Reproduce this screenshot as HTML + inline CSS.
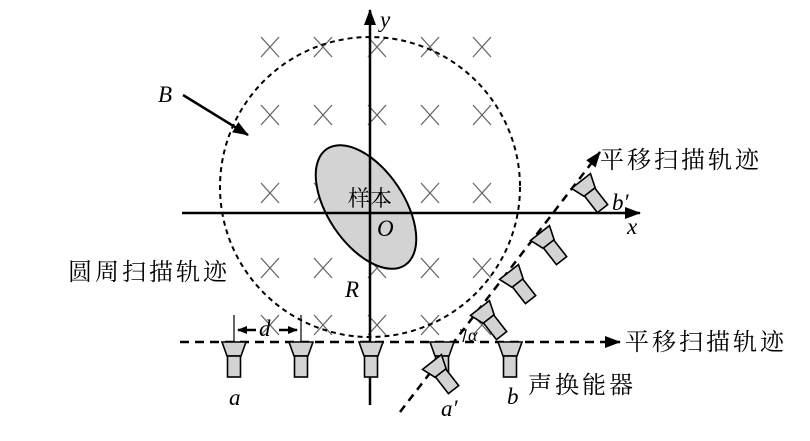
<!DOCTYPE html>
<html><head><meta charset="utf-8"><style>
html,body{margin:0;padding:0;background:#fff;}
</style></head><body>
<svg width="810" height="441" viewBox="0 0 810 441" xmlns="http://www.w3.org/2000/svg" style="display:block">
<defs>
<marker id="ar" markerWidth="10" markerHeight="8" refX="9" refY="4" orient="auto" markerUnits="userSpaceOnUse"><path d="M0,0 L10,4 L0,8 z" fill="#000"/></marker>
<marker id="arb" markerWidth="16" markerHeight="12" refX="15" refY="6" orient="auto" markerUnits="userSpaceOnUse"><path d="M0,0 L16,6 L0,12 z" fill="#000"/></marker>
<g id="xm" stroke="#666" stroke-width="1.3"><line x1="-9" y1="-10" x2="9" y2="10"/><line x1="9" y1="-10" x2="-9" y2="10"/></g>
<g id="tr" stroke="#000" stroke-width="1.6" fill="#d3d3d3"><path d="M-12,0 L12,0 L7,14 L-7,14 z"/><rect x="-6.5" y="14" width="13" height="21"/></g>
</defs>
<g>
<use href="#xm" x="270" y="47"/><use href="#xm" x="323" y="47"/><use href="#xm" x="377" y="47"/><use href="#xm" x="430" y="47"/><use href="#xm" x="482" y="47"/>
<use href="#xm" x="270" y="115"/><use href="#xm" x="323" y="115"/><use href="#xm" x="377" y="115"/><use href="#xm" x="430" y="115"/><use href="#xm" x="482" y="115"/>
<use href="#xm" x="270" y="193"/><use href="#xm" x="323" y="193"/><use href="#xm" x="377" y="193"/><use href="#xm" x="430" y="193"/><use href="#xm" x="482" y="193"/>
<use href="#xm" x="270" y="268"/><use href="#xm" x="323" y="268"/><use href="#xm" x="377" y="268"/><use href="#xm" x="430" y="268"/><use href="#xm" x="482" y="268"/>
<use href="#xm" x="270" y="325"/><use href="#xm" x="323" y="325"/><use href="#xm" x="377" y="325"/><use href="#xm" x="430" y="325"/><use href="#xm" x="482" y="325"/>
</g>
<ellipse cx="366" cy="207" rx="70" ry="38" transform="rotate(56 366 207)" fill="#d3d3d3" stroke="#000" stroke-width="2"/>
<circle cx="370" cy="187" r="150" fill="none" stroke="#000" stroke-width="2" stroke-dasharray="5,4"/>
<line x1="370" y1="405" x2="370" y2="10" stroke="#000" stroke-width="2.5" marker-end="url(#arb)"/>
<line x1="182" y1="213" x2="640" y2="213" stroke="#000" stroke-width="2.5" marker-end="url(#arb)"/>
<line x1="183" y1="95" x2="248" y2="135" stroke="#000" stroke-width="2.5" marker-end="url(#arb)"/>
<line x1="180" y1="342" x2="620" y2="342" stroke="#000" stroke-width="2.5" stroke-dasharray="9,6" marker-end="url(#arb)"/>
<line x1="400" y1="412" x2="600" y2="152" stroke="#000" stroke-width="2.5" stroke-dasharray="8,6" marker-end="url(#arb)"/>
<line x1="234" y1="315" x2="234" y2="342" stroke="#000" stroke-width="1.2"/>
<line x1="301" y1="315" x2="301" y2="342" stroke="#000" stroke-width="1.2"/>
<line x1="256" y1="330" x2="238" y2="330" stroke="#000" stroke-width="2.5" marker-end="url(#ar)"/>
<line x1="279" y1="330" x2="297" y2="330" stroke="#000" stroke-width="2.5" marker-end="url(#ar)"/>
<use href="#tr" x="234" y="342"/><use href="#tr" x="301" y="342"/><use href="#tr" x="371" y="342"/><use href="#tr" x="442" y="342"/><use href="#tr" x="510" y="342"/>
<use href="#tr" transform="translate(432,362) rotate(-38)"/>
<use href="#tr" transform="translate(480,308) rotate(-38)"/>
<use href="#tr" transform="translate(509,272) rotate(-38)"/>
<use href="#tr" transform="translate(540,233) rotate(-38)"/>
<use href="#tr" transform="translate(581,181) rotate(-38)"/>
<path d="M460,330 L466,330 L463,342" fill="none" stroke="#000" stroke-width="1.3"/>
<g font-family="Liberation Serif, serif" font-style="italic" font-size="23" fill="#000">
<text x="158" y="102">B</text>
<text x="380" y="27">y</text>
<text x="627" y="234">x</text>
<text x="377" y="236">O</text>
<text x="345" y="297">R</text>
<text x="259" y="336">d</text>
<text x="229" y="405">a</text>
<text x="441" y="416">a′</text>
<text x="507" y="404">b</text>
<text x="612" y="210">b′</text>
<text x="468" y="341" font-size="18">α</text>
</g>
<g font-family="Liberation Serif, Noto Serif CJK SC, serif" font-size="24" fill="#000">
<text x="348" y="206" font-size="22">样本</text>
<text x="68" y="280" letter-spacing="3">圆周扫描轨迹</text>
<text x="600" y="168" letter-spacing="3">平移扫描轨迹</text>
<text x="625" y="350" letter-spacing="3">平移扫描轨迹</text>
<text x="528" y="393" letter-spacing="3">声换能器</text>
</g>
</svg>
</body></html>
